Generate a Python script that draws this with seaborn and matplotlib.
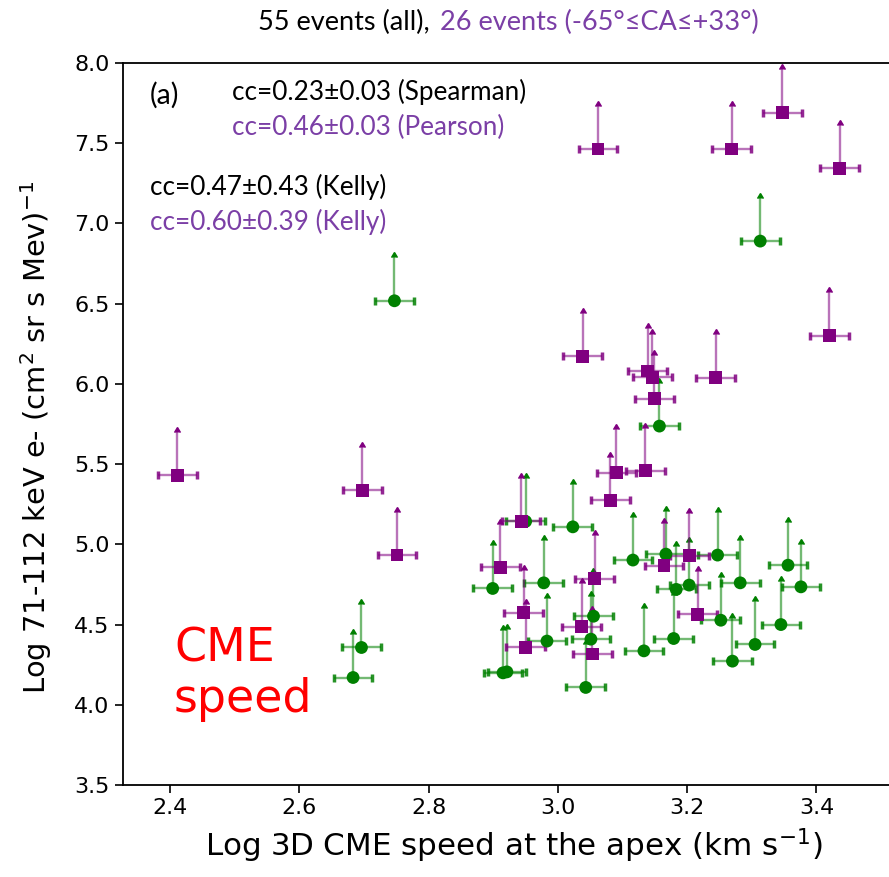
import numpy as np
import pandas as pd
import matplotlib
matplotlib.use("Agg")
import matplotlib.pyplot as plt
import seaborn as sns

# ---- data ----
# purple squares: 26 events (-65°<=CA<=+33°)
sub_speed = [2.411, 2.697, 2.751, 3.062, 3.269, 3.347, 3.436, 3.420, 3.038, 3.139,
             3.146, 3.149, 3.244, 3.090, 3.135, 3.081, 2.943, 3.203, 2.911, 2.947,
             2.950, 3.037, 3.164, 3.057, 3.053, 3.216]
sub_flux = [5.43, 5.338, 4.933, 7.464, 7.464, 7.690, 7.344, 6.300, 6.173, 6.080,
            6.041, 5.907, 6.038, 5.446, 5.458, 5.274, 5.143, 4.928, 4.858, 4.573,
            4.357, 4.486, 4.866, 4.787, 4.316, 4.563]
# green circles: remaining events
oth_speed = [3.313, 2.747, 3.157, 2.950, 3.023, 2.899, 2.978, 2.983, 2.915, 2.921,
             3.043, 3.116, 3.167, 3.183, 3.203, 3.055, 3.051, 3.179, 3.133, 3.247,
             3.282, 3.356, 3.376, 3.252, 3.345, 3.305, 3.270, 2.696, 2.683]
oth_flux = [6.890, 6.518, 5.737, 5.143, 5.109, 4.725, 4.760, 4.397, 4.199, 4.205,
            4.108, 4.902, 4.939, 4.719, 4.746, 4.552, 4.409, 4.413, 4.336, 4.933,
            4.760, 4.870, 4.735, 4.527, 4.500, 4.376, 4.272, 4.357, 4.170]

xerr_val = 0.03
arrow_len = 0.27

x_ticks = [2.4, 2.6, 2.8, 3.0, 3.2, 3.4]
y_ticks = [3.5, 4.0, 4.5, 5.0, 5.5, 6.0, 6.5, 7.0, 7.5, 8.0]

title_all = "55 events (all), "
title_sub = "26 events (-65°≤CA≤+33°)"
cc_texts = ["cc=0.23±0.03 (Spearman)", "cc=0.46±0.03 (Pearson)",
            "cc=0.47±0.43 (Kelly)", "cc=0.60±0.39 (Kelly)"]

df = pd.concat([
    pd.DataFrame({"speed": oth_speed, "flux": oth_flux, "group": "all"}),
    pd.DataFrame({"speed": sub_speed, "flux": sub_flux, "group": "sub"}),
], ignore_index=True)

sns.set_style("ticks")
plt.rcParams["font.family"] = ["DejaVu Sans"]
plt.rcParams["text.color"] = "black"
plt.rcParams["axes.labelcolor"] = "black"
plt.rcParams["xtick.color"] = "black"
plt.rcParams["ytick.color"] = "black"

W, H = 889, 877
fig = plt.figure(figsize=(W / 100, H / 100), dpi=100)
ax = fig.add_axes([123 / W, (H - 785) / H, (905 - 123) / W, 722 / H])

GREEN = "#008000"
PURPLE = "#800080"
TXT_PURPLE = "#7b3fa6"

for grp, col in [("all", GREEN), ("sub", PURPLE)]:
    d = df[df.group == grp]
    eb = ax.errorbar(d.speed, d.flux, xerr=xerr_val, fmt="none", ecolor=col,
                     elinewidth=1.7, capsize=3, capthick=2.5, zorder=2)
    for c in eb[2]:
        c.set_alpha(0.55)
    for c in eb[1]:
        c.set_alpha(0.85)
    eb2 = ax.errorbar(d.speed, d.flux, yerr=arrow_len, lolims=True, fmt="none",
                      ecolor=col, elinewidth=1.7, capsize=3, zorder=2)
    for c in eb2[2]:
        c.set_alpha(0.55)
    for c in eb2[1]:
        c.set_alpha(1.0)
        c.set_markerfacecolor(col)
        c.set_markeredgecolor(col)
        c.set_markersize(5)

sns.scatterplot(data=df, x="speed", y="flux", hue="group", style="group",
                palette={"all": GREEN, "sub": PURPLE},
                markers={"all": "o", "sub": "s"}, s=85, linewidth=0,
                legend=False, ax=ax, zorder=3)

ax.set_xlim(2.327, 3.537)
ax.set_ylim(3.5, 8.0)
ax.set_xticks(x_ticks)
ax.set_xticklabels([f"{t:.1f}" for t in x_ticks])
ax.set_yticks(y_ticks)
ax.set_yticklabels([f"{t:.1f}" for t in y_ticks])
ax.tick_params(labelsize=16, length=6, width=1.2, direction="out")
for s in ax.spines.values():
    s.set_linewidth(1.3)
    s.set_color("black")
ax.set_xlabel(r"Log 3D CME speed at the apex (km s$^{-1}$)", fontsize=22.3, labelpad=6)
ax.set_ylabel(r"Log 71-112 keV e- (cm$^2$ sr s Mev)$^{-1}$", fontsize=20.8)
ax.yaxis.set_label_coords(-0.088, 0.482)

tf = ["Lato", "DejaVu Sans"]
fig.text(437 / W, 1 - 22 / H, title_all, ha="right", va="center", fontsize=19.5,
         family=tf, color="black")
fig.text(440 / W, 1 - 22 / H, title_sub, ha="left", va="center", fontsize=19.5,
         family=tf, color=TXT_PURPLE)

def px(xp, yp):
    return (xp / W, 1 - yp / H)

fs = 18.8
fig.text(*px(150, 95), "(a)", ha="left", va="center", fontsize=20.5, family=tf)
fig.text(*px(232, 92), cc_texts[0], ha="left", va="center", fontsize=fs, family=tf, color="black")
fig.text(*px(232, 127), cc_texts[1], ha="left", va="center", fontsize=fs, family=tf, color=TXT_PURPLE)
fig.text(*px(150, 187), cc_texts[2], ha="left", va="center", fontsize=fs, family=tf, color="black")
fig.text(*px(150, 222), cc_texts[3], ha="left", va="center", fontsize=fs, family=tf, color=TXT_PURPLE)

fig.text(*px(174, 662), "CME", ha="left", va="baseline", fontsize=33, color="red")
fig.text(*px(174, 712), "speed", ha="left", va="baseline", fontsize=33, color="red")

fig.savefig("out.png", dpi=100)
